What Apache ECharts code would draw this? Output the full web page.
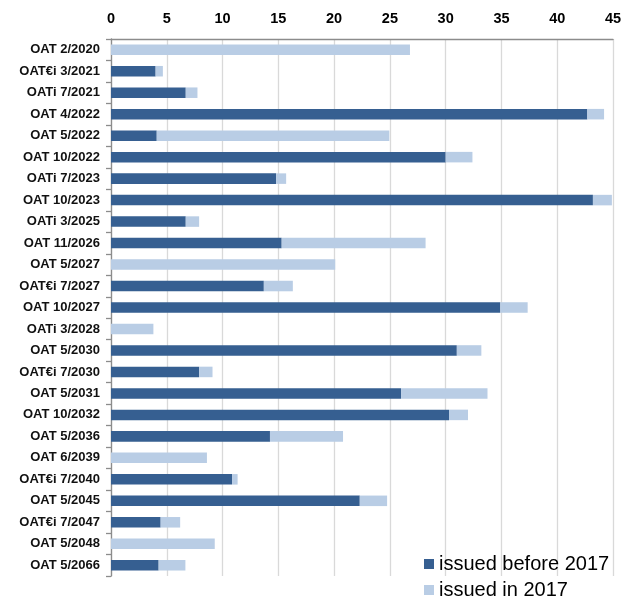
<!DOCTYPE html>
<html>
<head>
<meta charset="utf-8">
<script src="https://cdn.jsdelivr.net/npm/echarts@6/dist/echarts.min.js"></script>
<style>
  html, body { margin: 0; padding: 0; background: #fff; }
  #chart { width: 635px; height: 600px; }
</style>
</head>
<body>
<div id="chart"></div>
<script>
// Bond lines, top to bottom
const bonds = [
  'OAT 2/2020', 'OAT€i 3/2021', 'OATi 7/2021', 'OAT 4/2022', 'OAT 5/2022',
  'OAT 10/2022', 'OATi 7/2023', 'OAT 10/2023', 'OATi 3/2025', 'OAT 11/2026',
  'OAT 5/2027', 'OAT€i 7/2027', 'OAT 10/2027', 'OATi 3/2028', 'OAT 5/2030',
  'OAT€i 7/2030', 'OAT 5/2031', 'OAT 10/2032', 'OAT 5/2036', 'OAT 6/2039',
  'OAT€i 7/2040', 'OAT 5/2045', 'OAT€i 7/2047', 'OAT 5/2048', 'OAT 5/2066'
];

// Outstanding amount issued before 2017
const issuedBefore2017 = [
  0, 4.0, 6.7, 42.7, 4.1,
  30.0, 14.8, 43.2, 6.7, 15.3,
  0, 13.7, 34.9, 0, 31.0,
  7.9, 26.0, 30.3, 14.25, 0,
  10.85, 22.3, 4.45, 0, 4.27
];

// Amount issued during 2017
const issuedIn2017 = [
  26.8, 0.65, 1.05, 1.5, 20.85,
  2.4, 0.9, 1.7, 1.2, 12.9,
  20.1, 2.6, 2.45, 3.8, 2.2,
  1.2, 7.75, 1.7, 6.55, 8.6,
  0.5, 2.45, 1.75, 9.3, 2.4
];

const xTicks = { min: 0, max: 45, interval: 5 };

const seriesNames = ['issued before 2017', 'issued in 2017'];
const colors = ['#365F91', '#B9CDE5'];

const chart = echarts.init(document.getElementById('chart'), null, { renderer: 'canvas' });

chart.setOption({
  animation: false,
  color: colors,
  textStyle: { fontFamily: 'Liberation Sans, Arial, sans-serif' },
  grid: { left: 111, right: 22, top: 39, bottom: 24, containLabel: false },
  legend: {
    orient: 'vertical',
    left: 424,
    top: 554,
    width: 210,
    height: 60,
    padding: 0,
    itemWidth: 10,
    itemHeight: 10,
    itemGap: 6,
    icon: 'rect',
    textStyle: { fontSize: 20, color: '#000', padding: [0, 0, 0, 0] },
    data: seriesNames
  },
  xAxis: {
    type: 'value',
    position: 'top',
    min: xTicks.min,
    max: xTicks.max,
    interval: xTicks.interval,
    axisLine: { show: true, lineStyle: { color: '#8c8c8c', width: 1.3 } },
    axisTick: { show: false },
    axisLabel: { fontSize: 14.5, fontWeight: 'bold', color: '#000', margin: 13 },
    splitLine: { show: true, lineStyle: { color: '#d9d9d9', width: 1.3 } }
  },
  yAxis: {
    type: 'category',
    inverse: true,
    data: bonds,
    axisLine: { show: true, lineStyle: { color: '#8c8c8c', width: 1.3 } },
    axisTick: { show: true, length: 5, lineStyle: { color: '#8c8c8c', width: 1.3 } },
    axisLabel: { fontSize: 13, fontWeight: 'bold', color: '#111', margin: 11 }
  },
  series: [
    {
      name: seriesNames[0],
      type: 'bar',
      stack: 'total',
      barCategoryGap: '51%',
      data: issuedBefore2017
    },
    {
      name: seriesNames[1],
      type: 'bar',
      stack: 'total',
      barCategoryGap: '51%',
      data: issuedIn2017
    }
  ]
});
</script>
</body>
</html>
